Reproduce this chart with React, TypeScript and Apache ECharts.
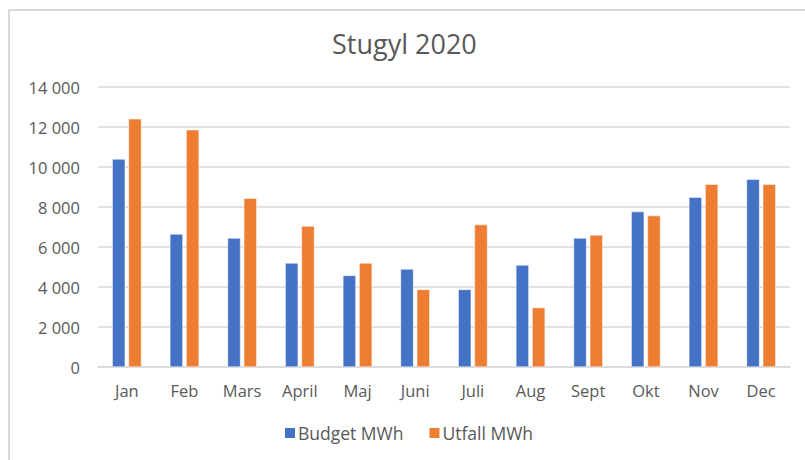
import React, { useEffect, useRef } from "react";
import * as echarts from "echarts";

const categories = ["Jan", "Feb", "Mars", "April", "Maj", "Juni", "Juli", "Aug", "Sept", "Okt", "Nov", "Dec"];
const budget = [10400, 6650, 6450, 5200, 4580, 4900, 3880, 5100, 6450, 7770, 8490, 9390];
const utfall = [12410, 11860, 8440, 7050, 5200, 3880, 7120, 2970, 6600, 7570, 9140, 9140];
const seriesNames = ["Budget MWh", "Utfall MWh"];
const yMin = 0;
const yMax = 14000;
const yStep = 2000;

const FONT = "'Open Sans', 'Liberation Sans', sans-serif";
const TXT = "#595959";

export default function App() {
  const ref = useRef<HTMLDivElement>(null);
  useEffect(() => {
    if (!ref.current) return;
    const chart = echarts.init(ref.current, null, { renderer: "svg" });
    chart.setOption({
      animation: false,
      backgroundColor: "#ffffff",
      textStyle: { fontFamily: FONT },
      title: {
        text: "Stugyl 2020",
        left: 332,
        top: 30,
        padding: 0,
        textStyle: { fontFamily: FONT, fontSize: 27, fontWeight: "normal", color: TXT },
      },
      graphic: [
        {
          type: "rect",
          shape: { x: 9, y: 10, width: 900, height: 600 },
          style: { fill: "none", stroke: "#d9d9d9", lineWidth: 2 },
          silent: true,
        },
      ],
      legend: {
        bottom: 18,
        left: 283,
        padding: 0,
        itemWidth: 12,
        itemHeight: 12,
        itemGap: 24,
        icon: "rect",
        textStyle: { fontFamily: FONT, fontSize: 17.5, color: TXT, padding: [0, 0, 0, -3] },
        data: seriesNames,
      },
      grid: { left: 98, right: 15, top: 87, bottom: 93, containLabel: false },
      xAxis: {
        type: "category",
        data: categories,
        axisLine: { show: true, lineStyle: { color: "#d9d9d9", width: 1.5 } },
        axisTick: { show: false },
        axisLabel: { fontFamily: FONT, fontSize: 16.5, color: TXT, margin: 15 },
      },
      yAxis: {
        type: "value",
        min: yMin,
        max: yMax,
        interval: yStep,
        axisLine: { show: false },
        axisTick: { show: false },
        splitLine: { lineStyle: { color: "#d9d9d9", width: 1.5 } },
        axisLabel: {
          fontFamily: FONT,
          fontSize: 16.5,
          color: TXT,
          margin: 18,
          formatter: (v: number) => String(v).replace(/\B(?=(\d{3})+(?!\d))/g, " "),
        },
      },
      series: [
        {
          name: seriesNames[0],
          type: "bar",
          data: budget,
          barWidth: 13,
          barGap: "25%",
          itemStyle: { color: "#4472C4", borderColor: "#ffffff", borderWidth: 0.5 },
        },
        {
          name: seriesNames[1],
          type: "bar",
          data: utfall,
          barWidth: 13,
          itemStyle: { color: "#ED7D31", borderColor: "#ffffff", borderWidth: 0.5 },
        },
      ],
    });
    return () => chart.dispose();
  }, []);
  return (
    <div
      ref={ref}
      style={{ position: "absolute", left: 0, top: 0, width: 805, height: 460 }}
    />
  );
}
